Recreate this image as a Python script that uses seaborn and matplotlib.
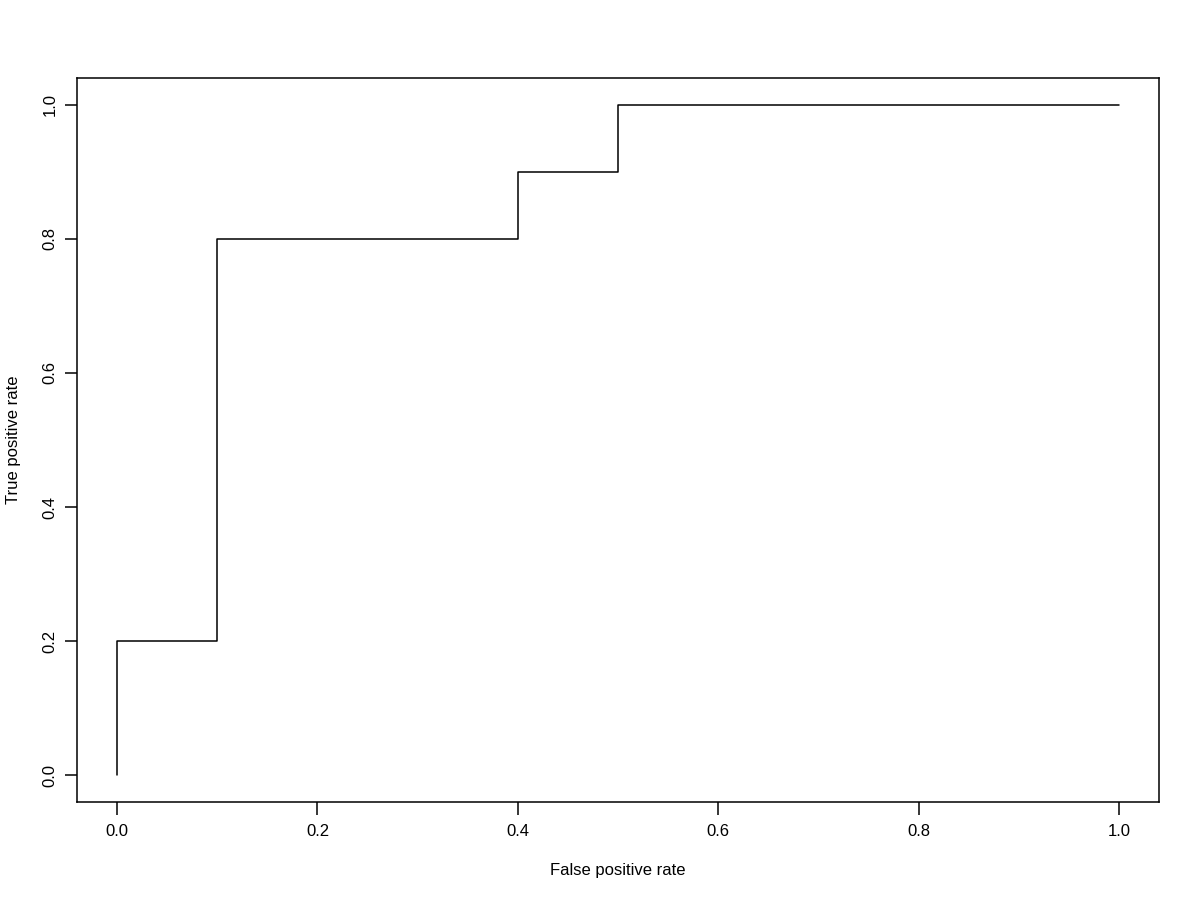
import numpy as np
import matplotlib
matplotlib.use("Agg")
import matplotlib.pyplot as plt
import seaborn as sns
import pandas as pd

# ROC curve points (step corners)
fpr = [0.0, 0.0, 0.1, 0.1, 0.4, 0.4, 0.5, 0.5, 1.0]
tpr = [0.0, 0.2, 0.2, 0.8, 0.8, 0.9, 0.9, 1.0, 1.0]
ticks = [0.0, 0.2, 0.4, 0.6, 0.8, 1.0]
tick_labels = ["0.0", "0.2", "0.4", "0.6", "0.8", "1.0"]

roc_df = pd.DataFrame({"fpr": fpr, "tpr": tpr})

sns.set_style("white")
plt.rcParams['font.family'] = ['Liberation Sans', 'DejaVu Sans']

fig = plt.figure(figsize=(12, 9), dpi=100)
ax = fig.add_axes([0.0642, 0.1089, 0.9016, 0.8044])

# sort=False keeps the step order
sns.lineplot(data=roc_df, x="fpr", y="tpr", sort=False, estimator=None,
             color="black", linewidth=1.1, ax=ax)

ax.set_xlim(-0.04, 1.04)
ax.set_ylim(-0.04, 1.04)

ax.set_xticks(ticks, labels=tick_labels)
ax.set_yticks(ticks, labels=tick_labels)
for lab in ax.get_yticklabels():
    lab.set_rotation(90)
    lab.set_va("center")

ax.tick_params(direction="out", length=9, width=1.1, colors="black",
               labelsize=12, left=True, bottom=True)
ax.tick_params(axis="x", pad=7)
ax.tick_params(axis="y", pad=5)
for spine in ax.spines.values():
    spine.set_visible(True)
    spine.set_color("black")
    spine.set_linewidth(1.1)

ax.set_xlabel("False positive rate", fontsize=12, color="black", va="center")
ax.set_ylabel("True positive rate", fontsize=12, color="black", va="center")
ax.xaxis.set_label_coords(0.5, -0.094)
ax.yaxis.set_label_coords(-0.059, 0.5)

plt.savefig("out.png", dpi=100)
